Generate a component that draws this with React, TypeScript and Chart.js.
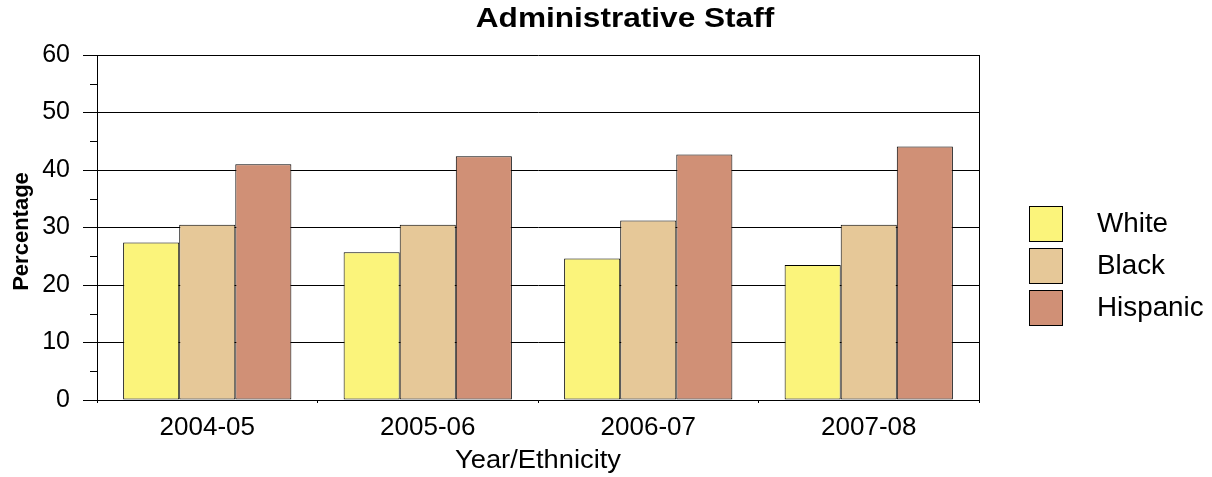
import React, { useEffect, useRef } from "react";
import { Chart, registerables } from "chart.js";

Chart.register(...registerables);

const categories = ["2004-05", "2005-06", "2006-07", "2007-08"];
const seriesNames = ["White", "Black", "Hispanic"];
const whiteValues = [27.4, 25.7, 24.6, 23.5];
const blackValues = [30.5, 30.5, 31.2, 30.5];
const hispanicValues = [41.0, 42.4, 42.7, 44.1];
const seriesColors = ["#FBF47B", "#E6C898", "#D09076"];
const yMin = 0;
const yMax = 60;
const yStep = 10;
const minorTickValues = [5, 15, 25, 35, 45, 55];
const chartTitle = "Administrative Staff";
const xTitle = "Year/Ethnicity";
const yTitle = "Percentage";

const FONT = "'Liberation Sans', Arial, sans-serif";

function stretchedText(ctx: any, text: string, x: number, y: number, sx: number) {
  ctx.save();
  ctx.translate(x, y);
  ctx.scale(sx, 1);
  ctx.fillText(text, 0, 0);
  ctx.restore();
}

const decorPlugin = {
  id: "decor",
  afterDraw(chart: any) {
    const { ctx, chartArea } = chart;
    const yScale = chart.scales.y;
    ctx.save();
    // right border
    ctx.strokeStyle = "#000";
    ctx.lineWidth = 1;
    ctx.beginPath();
    ctx.moveTo(chartArea.right + 0.5, chartArea.top);
    ctx.lineTo(chartArea.right + 0.5, chartArea.bottom);
    ctx.stroke();
    // minor ticks
    ctx.beginPath();
    for (const v of minorTickValues) {
      const y = Math.round(yScale.getPixelForValue(v)) + 0.5;
      ctx.moveTo(chartArea.left - 7, y);
      ctx.lineTo(chartArea.left, y);
    }
    ctx.stroke();
    // title
    ctx.fillStyle = "#000";
    ctx.font = `bold 27px ${FONT}`;
    ctx.textAlign = "center";
    ctx.textBaseline = "alphabetic";
    stretchedText(ctx, chartTitle, 625, 27, 1.17);
    // x title
    ctx.font = `26px ${FONT}`;
    stretchedText(ctx, xTitle, (chartArea.left + chartArea.right) / 2, 468, 1.05);
    // y title
    ctx.save();
    ctx.translate(28, (chartArea.top + chartArea.bottom) / 2 + 4);
    ctx.rotate(-Math.PI / 2);
    ctx.font = `bold 22px ${FONT}`;
    ctx.textAlign = "center";
    ctx.fillText(yTitle, 0, 0);
    ctx.restore();
    // legend
    const boxX = 1029;
    const boxW = 34;
    const boxH = 36;
    const startY = 206;
    const gap = 42;
    chart.data.datasets.forEach((ds: any, i: number) => {
      const y = startY + i * gap;
      ctx.fillStyle = ds.backgroundColor;
      ctx.fillRect(boxX, y, boxW, boxH);
      ctx.strokeStyle = "#000";
      ctx.lineWidth = 1;
      ctx.strokeRect(boxX + 0.5, y + 0.5, boxW - 1, boxH - 1);
      ctx.fillStyle = "#000";
      ctx.font = `27px ${FONT}`;
      ctx.textAlign = "left";
      ctx.textBaseline = "middle";
      stretchedText(ctx, ds.label, 1097, y + boxH / 2 + 1, 1.03);
    });
    ctx.restore();
  },
};

export default function App() {
  const canvasRef = useRef<HTMLCanvasElement | null>(null);

  useEffect(() => {
    document.body.style.margin = "0";
    const canvas = canvasRef.current;
    if (!canvas) return;
    const values = [whiteValues, blackValues, hispanicValues];
    const chart = new Chart(canvas, {
      type: "bar",
      data: {
        labels: categories,
        datasets: seriesNames.map((name, i) => ({
          label: name,
          data: values[i],
          backgroundColor: seriesColors[i],
          borderColor: "#000",
          borderWidth: 1,
          borderSkipped: false,
          categoryPercentage: 0.763,
          barPercentage: 1.0,
        })),
      },
      options: {
        animation: false,
        responsive: false,
        maintainAspectRatio: false,
        layout: { padding: { top: 55, right: 233, bottom: 0, left: 0 } },
        plugins: {
          legend: { display: false },
          title: { display: false },
          tooltip: { enabled: false },
        },
        scales: {
          x: {
            offset: true,
            grid: {
              offset: true,
              drawOnChartArea: false,
              color: "#000",
              tickColor: "#000",
              tickLength: 3,
            },
            border: { display: true, color: "#000", width: 1 },
            ticks: {
              color: "#000",
              font: { family: FONT, size: 26 },
              padding: 9,
              maxRotation: 0,
            },
            afterFit: (scale: any) => {
              scale.height = 77;
            },
          },
          y: {
            min: yMin,
            max: yMax,
            ticks: {
              stepSize: yStep,
              color: "#000",
              font: { family: FONT, size: 25 },
              padding: 13,
            },
            grid: {
              color: "#000",
              tickColor: "#000",
              tickLength: 14,
              lineWidth: 1,
            },
            border: { display: true, color: "#000", width: 1 },
            afterFit: (scale: any) => {
              scale.width = 97;
            },
          },
        },
      },
      plugins: [decorPlugin],
    });
    return () => chart.destroy();
  }, []);

  return (
    <div style={{ width: 1212, height: 477 }}>
      <canvas ref={canvasRef} width={1212} height={477} style={{ display: "block" }} />
    </div>
  );
}
